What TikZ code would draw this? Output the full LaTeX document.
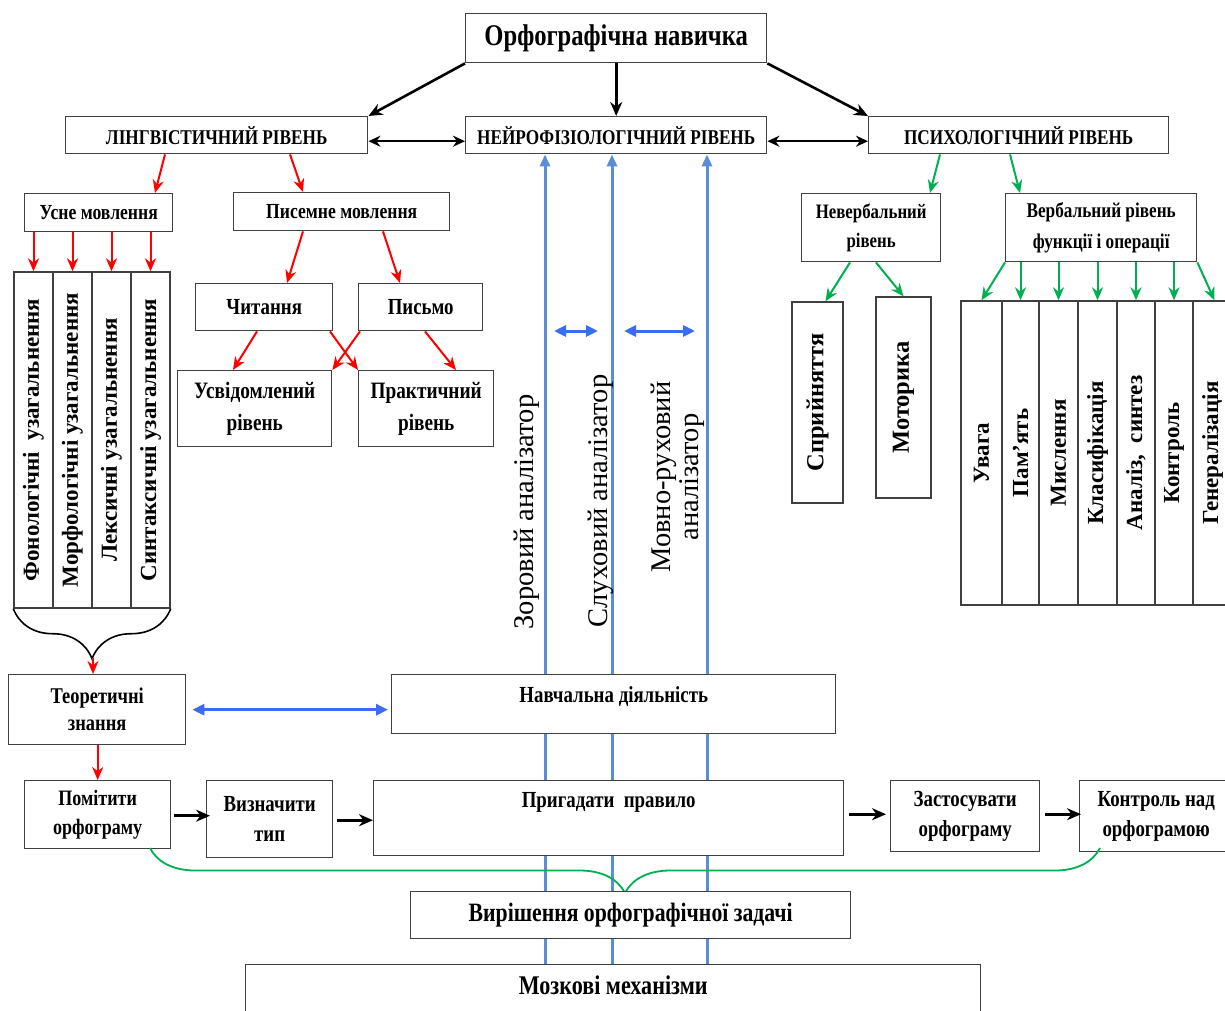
\documentclass[tikz,border=0pt]{standalone}
\usepackage{fontspec}
\setmainfont{Liberation Serif}
\newfontfamily\narrowfont[FakeStretch=0.82]{Liberation Serif}
\usetikzlibrary{arrows.meta, positioning, decorations.pathreplacing}

\definecolor{linkred}{HTML}{FF0000}
\definecolor{linkgreen}{HTML}{00B050}
\definecolor{analyzerblue}{HTML}{5B8DD6}
\definecolor{linkblue}{HTML}{3D6BF5}

\tikzset{
  box/.style={draw=black!75, fill=white, line width=1.4pt, inner sep=0pt, align=center,
    anchor=north west, font=\narrowfont\bfseries\fontsize{23}{30}\selectfont},
  levelbox/.style={box, font=\narrowfont\bfseries\fontsize{21}{24}\selectfont},
  col/.style={draw=black!75, fill=white, line width=1.4pt, inner sep=0pt, rotate=90,
    font=\bfseries\fontsize{23}{26}\selectfont},
  boxtext/.style={inner sep=0pt, font=\narrowfont\bfseries\fontsize{23}{26}\selectfont},
  analyzer/.style={inner sep=0pt, rotate=90, align=center, font=\fontsize{28.5}{28}\selectfont},
  black arrow/.style={draw=black, line width=2.6pt, -{Stealth[length=14pt,width=12pt]}},
  level link/.style={draw=black, line width=2.2pt, {Stealth[length=12pt,width=11pt]}-{Stealth[length=12pt,width=11pt]}},
  red arrow/.style={draw=linkred, line width=2pt, -{Stealth[length=13pt,width=11pt]}},
  green arrow/.style={draw=linkgreen, line width=2pt, -{Stealth[length=13pt,width=11pt]}},
  analyzer line/.style={draw=analyzerblue, line width=3pt, -{Triangle[length=12pt,width=10pt]}},
  blue link/.style={draw=linkblue, line width=3pt, {Triangle[length=12pt,width=11pt]}-{Triangle[length=12pt,width=11pt]}}
}

\begin{document}
\begin{tikzpicture}[x=1pt, y=-1pt]
\useasboundingbox[fill=white] (0,0) rectangle (1225,1010);

% top level
\node[box, minimum width=301, minimum height=49, font=\narrowfont\bfseries\fontsize{30}{34}\selectfont] (skill) at (465,13) {Орфографічна навичка};
\node[levelbox, minimum width=302, minimum height=37] (lingv) at (65,116) {ЛІНГВІСТИЧНИЙ РІВЕНЬ};
\node[levelbox, minimum width=301, minimum height=37] (neuro) at (465,116) {НЕЙРОФІЗІОЛОГІЧНИЙ РІВЕНЬ};
\node[levelbox, minimum width=300, minimum height=37] (psych) at (868,116) {ПСИХОЛОГІЧНИЙ РІВЕНЬ};

\draw[black arrow] (skill.south west) -- (lingv.north east);
\draw[black arrow] (skill.south) -- (neuro.north);
\draw[black arrow] (skill.south east) -- (psych.north west);
\draw[level link] ([yshift=-6pt]lingv.east) -- ([yshift=-6pt]neuro.west);
\draw[level link] ([yshift=-6pt]neuro.east) -- ([yshift=-6pt]psych.west);

% analyzers
\coordinate (see) at (545,964);
\coordinate (hear) at (612,964);
\coordinate (speak) at (707,964);
\draw[analyzer line] (see) -- (see |- neuro.south);
\draw[analyzer line] (hear) -- (hear |- neuro.south);
\draw[analyzer line] (speak) -- (speak |- neuro.south);
\node[analyzer] (seetext) at (527,512) {Зоровий аналізатор};
\node[analyzer] (heartext) at (601,501) {Слуховий аналізатор};
\node[analyzer] (speaktext) at (678,477) {Мовно-руховий\\аналізатор};
\coordinate (ab1) at (554,331);
\coordinate (ab2) at (598,331);
\coordinate (ab3) at (624,331);
\coordinate (ab4) at (695,331);
\draw[blue link] (ab1) -- (ab2);
\draw[blue link] (ab3) -- (ab4);

% linguistic branch
\node[box, minimum width=148, minimum height=38, font=\narrowfont\bfseries\fontsize{21.5}{24}\selectfont] (oral) at (24,193) {Усне мовлення};
\node[box, minimum width=216, minimum height=38, font=\narrowfont\bfseries\fontsize{21.5}{24}\selectfont] (written) at (233,192) {Писемне мовлення};
\draw[red arrow] ([xshift=100pt]lingv.south west) -- ([xshift=131pt]oral.north west);
\draw[red arrow] ([xshift=225pt]lingv.south west) -- ([xshift=70pt]written.north west);

\node[col, minimum width=336, minimum height=39] (c1) at (33.5,440) {Фонологічні\ \ узагальнення};
\node[col, minimum width=336, minimum height=39] (c2) at (72.5,440) {Морфологічні узагальнення};
\node[col, minimum width=336, minimum height=39] (c3) at (111.5,440) {Лексичні узагальнення};
\node[col, minimum width=336, minimum height=39] (c4) at (150.5,440) {Синтаксичні узагальнення};
\foreach \c in {c1,c2,c3,c4}
  \draw[red arrow] (\c.east |- oral.south) -- (\c.east);
\draw[line width=1.6pt, decorate, decoration={brace, mirror, amplitude=50pt}] (c1.north west) -- (c4.south west);

\node[box, minimum width=137, minimum height=47] (read) at (195,283) {Читання};
\node[box, minimum width=124, minimum height=47] (write) at (358,283) {Письмо};
\draw[red arrow] ([xshift=70pt]written.south west) -- ([xshift=92pt]read.north west);
\draw[red arrow] ([xshift=150pt]written.south west) -- ([xshift=42pt]write.north west);

\node[box, minimum width=154, minimum height=76, font=\narrowfont\bfseries\fontsize{23.5}{32}\selectfont] (aware) at (177,370) {Усвідомлений\\рівень};
\node[box, minimum width=135, minimum height=76, font=\narrowfont\bfseries\fontsize{23.5}{32}\selectfont] (pract) at (358,370) {Практичний\\рівень};
\draw[red arrow] ([xshift=62pt]read.south west) -- ([xshift=56pt]aware.north west);
\draw[red arrow] ([xshift=135pt]read.south west) -- (pract.north west);
\draw[red arrow] ([xshift=2pt]write.south west) -- (aware.north east);
\draw[red arrow] ([xshift=67pt]write.south west) -- ([xshift=98pt]pract.north west);

% psychological branch
\node[box, minimum width=139, minimum height=68, font=\narrowfont\bfseries\fontsize{20.5}{29}\selectfont] (nonverb) at (801,193) {Невербальний\\рівень};
\node[box, minimum width=191, minimum height=68, font=\narrowfont\bfseries\fontsize{21}{31}\selectfont] (verb) at (1005,193) {Вербальний рівень\\функції і операції};
\draw[green arrow] ([xshift=72pt]psych.south west) -- ([xshift=129pt]nonverb.north west);
\draw[green arrow] ([xshift=142pt]psych.south west) -- ([xshift=15pt]verb.north west);

\node[col, minimum width=201, minimum height=51, font=\bfseries\fontsize{24.5}{26}\selectfont] (perc) at (817.5,402.5) {Сприйняття};
\node[col, minimum width=201, minimum height=55, font=\bfseries\fontsize{24.5}{26}\selectfont] (motor) at (903.5,397.5) {Моторика};
\draw[green arrow] ([xshift=49pt]nonverb.south west) -- ([xshift=8pt]perc.east);
\draw[green arrow] ([xshift=75pt]nonverb.south west) -- (motor.east);

\node[col, minimum width=304, minimum height=41] (v1) at (981.5,453) {Увага};
\node[col, minimum width=304, minimum height=37] (v2) at (1020.5,453) {Пам’ять};
\node[col, minimum width=304, minimum height=39] (v3) at (1058.5,453) {Мислення};
\node[col, minimum width=304, minimum height=39] (v4) at (1097.5,453) {Класифікація};
\node[col, minimum width=304, minimum height=38] (v5) at (1136,453) {Аналіз,\ \ синтез};
\node[col, minimum width=304, minimum height=38] (v6) at (1174,453) {Контроль};
\node[col, minimum width=304, minimum height=39] (v7) at (1212.5,453) {Генералізація};
\draw[green arrow] (verb.south west) -- (v1.east);
\foreach \v in {v2,v3,v4,v5,v6}
  \draw[green arrow] (\v.east |- verb.south) -- (\v.east);
\draw[green arrow] (verb.south east) -- ([xshift=2pt]v7.east);

% learning
\node[box, minimum width=177, minimum height=70, font=\narrowfont\bfseries\fontsize{22.5}{27}\selectfont] (theory) at (8,674) {Теоретичні\\знання};
\node[box, minimum width=444, minimum height=59] (study) at (391,674) {};
\node[boxtext, below=12pt of study.north] (studytext) {Навчальна діяльність};
\coordinate (bracetip) at (93,658);
\draw[red arrow] (bracetip) -- (bracetip |- theory.north);
\draw[blue link] ([xshift=6pt]theory.east) -- ([xshift=-3pt]theory.east -| study.west);

% steps
\node[box, minimum width=146, minimum height=68, font=\narrowfont\bfseries\fontsize{22}{29}\selectfont] (notice) at (24,780) {Помітити\\орфограму};
\node[box, minimum width=126, minimum height=77] (type) at (206,780) {Визначити\\тип};
\node[box, minimum width=470, minimum height=75] (recall) at (373,780) {};
\node[boxtext, below=12pt of recall.north] (recalltext) {Пригадати\ \ правило};
\node[box, minimum width=149, minimum height=71] (apply) at (890,780) {Застосувати\\орфограму};
\node[box, minimum width=153, minimum height=71] (control) at (1079,780) {Контроль над\\орфограмою};
\draw[red arrow] (theory.south -| notice.north) -- (notice.north);
\draw[black arrow] ([xshift=3pt,yshift=-1pt]notice.east) -- ([xshift=4pt,yshift=-1pt]notice.east -| type.west);
\draw[black arrow] ([xshift=4pt,yshift=-1pt]type.east) -- ([yshift=-1pt]type.east -| recall.west);
\draw[black arrow] ([xshift=5pt,yshift=4pt]recall.east) -- ([xshift=-4pt,yshift=4pt]recall.east -| apply.west);
\draw[black arrow] ([xshift=5pt,yshift=2pt]apply.east) -- ([xshift=2pt,yshift=2pt]apply.east -| control.west);

\coordinate (gb1) at (150,848);
\coordinate (gb2) at (1100,848);
\draw[draw=linkgreen, line width=1.8pt, decorate, decoration={brace, mirror, amplitude=45pt}] (gb1) -- (gb2);

% result
\node[box, minimum width=440, minimum height=47, font=\narrowfont\bfseries\fontsize{26.5}{28}\selectfont] (solve) at (410,891) {Вирішення орфографічної задачі};
\node[box, minimum width=735, minimum height=70] (brain) at (245,964) {};
\node[boxtext, below=12pt of brain.north, font=\narrowfont\bfseries\fontsize{27}{28}\selectfont] (braintext) {Мозкові механізми};
\end{tikzpicture}
\end{document}
